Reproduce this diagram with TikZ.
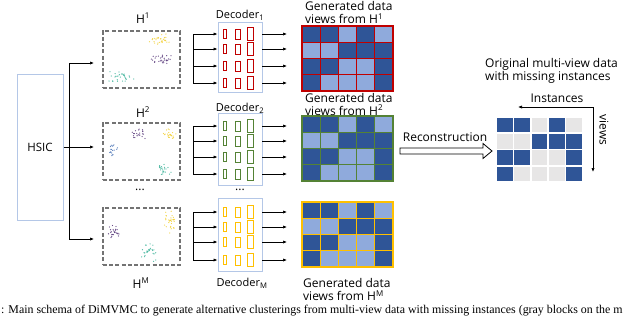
\documentclass[tikz,border=0pt]{standalone}
\usepackage{fontspec}
\setmainfont{Open Sans}
\newfontfamily\capfont{Liberation Serif}
\usetikzlibrary{arrows.meta}
\definecolor{dblue}{HTML}{2F5597}
\definecolor{lblue}{HTML}{8FAADC}
\definecolor{mgray}{HTML}{E7E6E6}
\definecolor{dred}{HTML}{C00000}
\definecolor{dgreen}{HTML}{548235}
\definecolor{dyellow}{HTML}{FFC000}
\definecolor{boxblue}{HTML}{B4C7E7}
\definecolor{cyel}{HTML}{F2D13A}
\definecolor{cpur}{HTML}{5A3B7C}
\definecolor{cteal}{HTML}{3EB39A}
\definecolor{cblu}{HTML}{4A73B5}
\newcommand{\scatclust}[6]{%
  \foreach \k in {1,...,#6}{%
    \pgfmathsetmacro\px{#1+(rand+rand)*#3/2}%
    \pgfmathsetmacro\py{#2+(rand+rand)*#4/2}%
    \fill[#5,opacity=0.9] (\px,\py) circle (0.65);
  }}
\newcommand{\decrects}[2]{% rows list, color
  \foreach \ry in {#1}{%
    \draw[#2,line width=0.8pt] (225-1.75,\ry-4.25) rectangle ++(3.5,8.5);
    \draw[#2,line width=0.8pt] (237.5-2.5,\ry-5) rectangle ++(5,10);
    \draw[#2,line width=0.8pt] (250-3,\ry-6.5) rectangle ++(6,13);
  }}
\newcommand{\genmatrix}[3]{% x0, y0, border color
  \foreach \row [count=\r from 0] in {{1,1,0,1,0},{0,0,1,1,1},{1,1,0,0,1},{1,0,0,0,1}}{%
    \foreach \v [count=\c from 0] in \row {%
      \ifnum\v=1 \def\fc{dblue}\else\def\fc{lblue}\fi
      \filldraw[fill=\fc,draw=#3,line width=1.2pt] (#1+\c*18.2,#2+\r*16.25) rectangle ++(18.2,16.25);
    }}}
\begin{document}
\begin{tikzpicture}[x=1pt,y=-1pt,
  arr/.style={-{Latex[length=4pt,width=3.2pt]},line width=0.7pt},
  dashbox/.style={draw=black!55,dashed,dash pattern=on 4pt off 2.2pt,line width=1.1pt,minimum width=77pt,minimum height=57pt,inner sep=0pt},
  decbox/.style={draw=boxblue,line width=0.9pt,minimum width=44pt,inner sep=0pt},
  lab/.style={font=\fontsize{12}{13}\selectfont,inner sep=0pt}]
\useasboundingbox (0,0) rectangle (640,317);

% HSIC
\node[draw=boxblue,line width=1pt,minimum width=46pt,minimum height=146pt,inner sep=0pt,font=\fontsize{11.5}{13}\selectfont] (hsic) at (40,147) {HSIC};

% scatter boxes
\node[dashbox] (s1) at (141.5,59.5) {};
\node[dashbox] (s2) at (141.5,151.5) {};
\node[dashbox] (sM) at (141.5,236.5) {};
\node[lab] (h1) at (143,18) {H\textsuperscript{1}};
\node[lab] (h2) at (143,112) {H\textsuperscript{2}};
\node[lab] (hdots) at (140,190) {...};
\node[lab] (hM) at (141,283) {H\textsuperscript{M}};

\pgfmathsetseed{11}
\scatclust{159}{39}{13}{6}{cyel}{30}
\scatclust{162}{59}{13}{6}{cpur}{30}
\scatclust{121}{77}{14}{7}{cteal}{30}
\scatclust{138}{134}{8}{7}{cpur}{22}
\scatclust{170}{135}{8}{7}{cyel}{22}
\scatclust{112}{150}{6}{7}{cblu}{18}
\scatclust{163}{170}{9}{7}{cteal}{22}
\scatclust{115}{233}{7}{11}{cpur}{25}
\scatclust{170}{222}{8}{12}{cyel}{30}
\scatclust{149}{252}{9}{12}{cteal}{28}

% HSIC branches
\coordinate (jn) at (69,147);
\draw[arr] (hsic.east) -- (94,147) coordinate (e2);
\draw[arr] (jn) |- (94,63) coordinate (e1);
\draw[arr] (jn) |- (94,239) coordinate (eM);

% decoders
\node[decbox,minimum height=70pt] (d1) at (240,57) {};
\node[decbox,minimum height=72pt] (d2) at (240,149) {};
\node[decbox,minimum height=73pt] (dM) at (240,234.5) {};
\node[lab,font=\fontsize{11}{12}\selectfont] (d1l) at (240,15) {Decoder\textsubscript{1}};
\node[lab,font=\fontsize{11}{12}\selectfont] (d2l) at (240,108) {Decoder\textsubscript{2}};
\node[lab] (ddots) at (240,190) {...};
\node[lab,font=\fontsize{11}{12}\selectfont] (dMl) at (242,283) {Decoder\textsubscript{M}};

\decrects{34,49,66,83}{dred}
\decrects{126,141,157,174}{dgreen}
\decrects{212,227,242,260}{dyellow}

% brackets into decoders and arrows out
\draw[line width=0.7pt] (193,34) -- (193,83);
\draw[line width=0.7pt] (193,126) -- (193,174);
\draw[line width=0.7pt] (193,212) -- (193,260);
\foreach \ry in {34,49,66,83}{\draw[arr] (193,\ry) -- (d1.west |- 0,\ry); \draw[arr] (d1.east |- 0,\ry) -- (287,\ry);}
\foreach \ry in {126,141,157,174}{\draw[arr] (193,\ry) -- (d2.west |- 0,\ry); \draw[arr] (d2.east |- 0,\ry) -- (287,\ry);}
\foreach \ry in {212,227,242,260}{\draw[arr] (193,\ry) -- (dM.west |- 0,\ry); \draw[arr] (dM.east |- 0,\ry) -- (287,\ry);}

% generated matrices
\genmatrix{302}{26}{dred}
\genmatrix{302}{116}{dgreen}
\genmatrix{302}{202}{dyellow}
\node[lab,anchor=west,align=left] (g1) at (305,12.5) {Generated data\\views from H\textsuperscript{1}};
\node[lab,anchor=west,align=left] (g2) at (305,104) {Generated data\\views from H\textsuperscript{2}};
\node[lab,anchor=west,align=left] (gM) at (303,289.5) {Generated data\\views from H\textsuperscript{M}};

% reconstruction arrow
\node[lab] (rec) at (445,137) {Reconstruction};
\draw[line width=0.8pt,fill=white] (400,148) -- (483,148) -- (483,143.5) -- (492,151) -- (483,158.5) -- (483,154) -- (400,154) -- cycle;

% original matrix
\foreach \row [count=\r from 0] in {{1,1,0,1,0},{0,0,1,1,1},{1,1,0,0,1},{1,0,0,0,1}}{%
  \foreach \v [count=\c from 0] in \row {%
    \ifnum\v=1 \def\fc{dblue}\else\def\fc{mgray}\fi
    \fill[\fc] (496+\c*17.4+0.8,117+\r*16.25+0.8) rectangle ++(15.8,14.65);
  }}
\node[lab,anchor=west,align=left] (orig) at (485,70.5) {Original multi-view data\\with missing instances};
\node[lab] (inst) at (557,98) {Instances};
\coordinate (ic) at (593,107);
\draw[arr] (ic) -- (518,107) coordinate (ileft);
\draw[arr] (ic) -- (593,172) coordinate (vbot);
\node[lab,rotate=-90] (views) at (604,130) {views};

% caption (runs to the edge)
\node[anchor=base west,inner sep=0pt,font=\capfont\fontsize{11.9}{13}\selectfont] (cap) at (1,313.5) {: Main schema of DiMVMC to generate alternative clusterings from multi-view data with missing instances (gray blocks on the m};
\end{tikzpicture}
\end{document}
